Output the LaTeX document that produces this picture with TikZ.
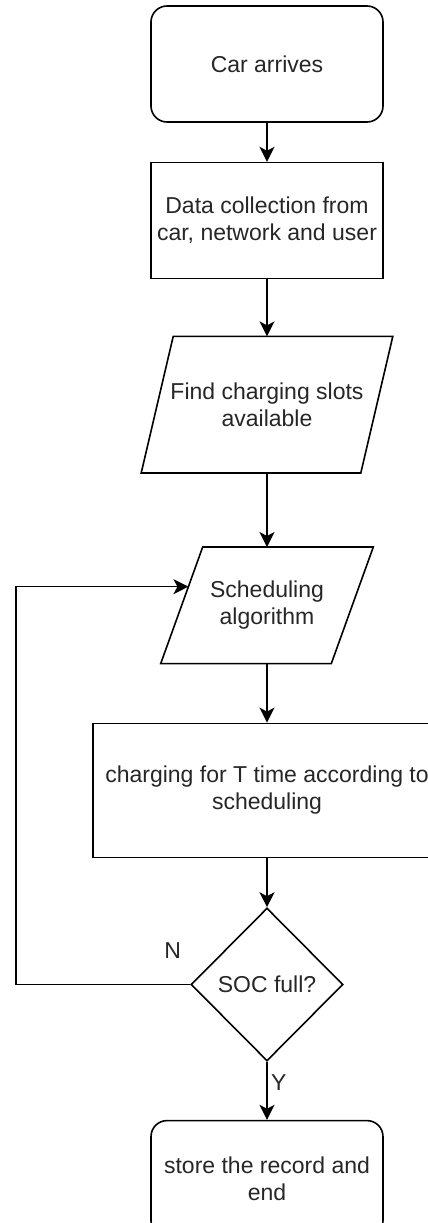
\documentclass[tikz,border=0pt]{standalone}
\usepackage{fontspec}
\setmainfont{Liberation Sans}
\usetikzlibrary{arrows.meta,shapes.geometric,calc,positioning}

\tikzset{
  base/.style={line width=1.6pt, align=center, text=black!85,
    font=\fontsize{23}{27}\selectfont},
  roundbox/.style={base, draw, rounded corners=16pt, minimum width=232pt, minimum height=116pt},
  plainbox/.style={base, draw, rectangle, minimum width=232pt, minimum height=116pt},
  slantbox/.style={base, rectangle, minimum height=#1},
  decision/.style={base, draw, diamond, minimum width=152pt, minimum height=153pt, inner sep=0pt},
  outline/.style={line width=1.6pt, line join=miter},
  flow/.style={line width=1.6pt, -{Stealth[length=15pt,width=15pt,inset=4pt]}},
  lbl/.style={text=black!85, font=\fontsize{23}{27}\selectfont}
}

\begin{document}
\begin{tikzpicture}[x=1pt,y=-1pt]
\useasboundingbox (0,0) rectangle (428,1223);

% main column
\node[roundbox] (start) at (267,64) {Car arrives};
\node[plainbox, below=39pt of start] (data) {Data collection from\\car, network and user};
\node[slantbox=135pt, minimum width=250pt, below=57pt of data] (find) {Find charging slots\\available};
\node[slantbox=115pt, minimum width=211pt, below=74pt of find] (sched) {Scheduling\\algorithm};
\node[plainbox, minimum width=348pt, minimum height=134pt, below=59pt of sched] (charge) {charging for T time according to\\scheduling};
\node[decision, below=49pt of charge] (soc) {SOC full?};
\node[roundbox, below=58pt of soc] (stop) {store the record and\\end};

% slanted sides
\draw[outline] ($(find.north west)+(32pt,0)$) -- (find.north east)
  -- ($(find.south east)-(32pt,0)$) -- (find.south west) -- cycle;
\draw[outline] ($(sched.north west)+(42pt,0)$) -- (sched.north east)
  -- ($(sched.south east)-(42pt,0)$) -- (sched.south west) -- cycle;

\coordinate (schedtl) at ($(sched.north west)+(42pt,0)$);
\coordinate (back) at ($(schedtl)!0.34!(sched.south west)$);
\coordinate (loopx) at (16,0);

% arrows
\draw[flow] (start) -- (data);
\draw[flow] (data) -- (find);
\draw[flow] (find) -- (sched);
\draw[flow] (sched) -- (charge);
\draw[flow] (charge) -- (soc);
\draw[flow] (soc.south) -- node[lbl, pos=0.35, right=0pt] {Y} (stop);
\draw[flow] (soc.west) -- node[lbl, pos=0.1, above=22pt] {N} (soc.west -| loopx) |- (back);
\end{tikzpicture}
\end{document}
